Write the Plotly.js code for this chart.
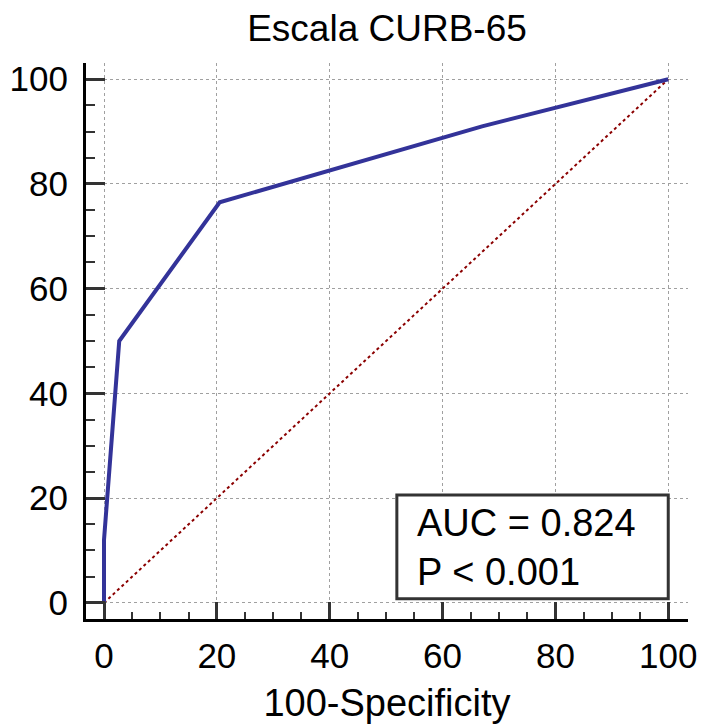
<!DOCTYPE html>
<html>
<head>
<meta charset="utf-8">
<script src="https://cdn.plot.ly/plotly-3.0.1.min.js"></script>
<style>body{margin:0;padding:0;background:#fff;}</style>
</head>
<body>
<div id="chart" style="width:705px;height:724px;"></div>
<script>
// ROC curve data (100-Specificity, Sensitivity)
const rocX = [0, 0, 2.7, 20.5, 67, 100];
const rocY = [0, 12, 50, 76.5, 91, 100];
// reference diagonal
const diagX = [0, 100];
const diagY = [0, 100];
const chartTitle = "Escala CURB-65";
const xTitle = "100-Specificity";
const statsText = ["AUC = 0.824", "P &lt; 0.001"];
const tickVals = [0, 20, 40, 60, 80, 100];

const FONT = "Liberation Sans, Arial, sans-serif";

const traces = [
  {x: diagX, y: diagY, mode: "lines", type: "scatter",
   line: {color: "#8b0000", width: 2, dash: "dot"}, hoverinfo: "skip", showlegend: false},
  {x: rocX, y: rocY, mode: "lines", type: "scatter",
   line: {color: "#333399", width: 4}, showlegend: false}
];

const layout = {
  width: 705, height: 724,
  margin: {l: 86, r: 17, t: 63, b: 104.5, pad: 0},
  paper_bgcolor: "#fff", plot_bgcolor: "#fff",
  showlegend: false,
  title: {text: chartTitle, font: {family: FONT, size: 37, color: "#000"},
          xref: "paper", x: 0.5, xanchor: "center",
          yref: "container", y: 1 - 28/724, yanchor: "middle"},
  xaxis: {
    range: [-3.19, 103.5], autorange: false,
    tickmode: "array", tickvals: tickVals, ticktext: tickVals.map(String),
    ticks: "inside", ticklen: 17, tickwidth: 3, tickcolor: "#333",
    showline: true, linecolor: "#000", linewidth: 3, mirror: false,
    showgrid: true, gridcolor: "#a0a0a0", gridwidth: 1, griddash: "dot",
    zeroline: false,
    minor: {dtick: 5, tick0: 0, ticks: "inside", ticklen: 7, tickwidth: 2, tickcolor: "#333", showgrid: false},
    tickfont: {family: FONT, size: 35, color: "#000"},
    ticklabelstandoff: 4,
    title: {text: xTitle, font: {family: FONT, size: 38, color: "#000"}, standoff: 16}
  },
  yaxis: {
    range: [-3.09, 103.1], autorange: false,
    tickmode: "array", tickvals: tickVals, ticktext: tickVals.map(String),
    ticks: "inside", ticklen: 19, tickwidth: 3, tickcolor: "#333",
    showline: true, linecolor: "#000", linewidth: 3, mirror: false,
    showgrid: true, gridcolor: "#a0a0a0", gridwidth: 1, griddash: "dot",
    zeroline: false,
    minor: {dtick: 5, tick0: 0, ticks: "inside", ticklen: 9, tickwidth: 2, tickcolor: "#333", showgrid: false},
    tickfont: {family: FONT, size: 35, color: "#000"},
    ticklabelstandoff: 8
  },
  shapes: [
    {type: "rect", xref: "x", yref: "y", x0: 51.9, x1: 100, y0: 0.8, y1: 20.6,
     fillcolor: "#fff", line: {color: "#333", width: 3}, layer: "above"}
  ],
  annotations: [
    {xref: "x", yref: "y", x: 55.1, y: 10.6, xanchor: "left", yanchor: "middle",
     align: "left", showarrow: false, text: statsText.join("<br>"),
     font: {family: FONT, size: 38, color: "#000"}}
  ]
};

Plotly.newPlot("chart", traces, layout, {displayModeBar: false, staticPlot: true});
</script>
</body>
</html>
